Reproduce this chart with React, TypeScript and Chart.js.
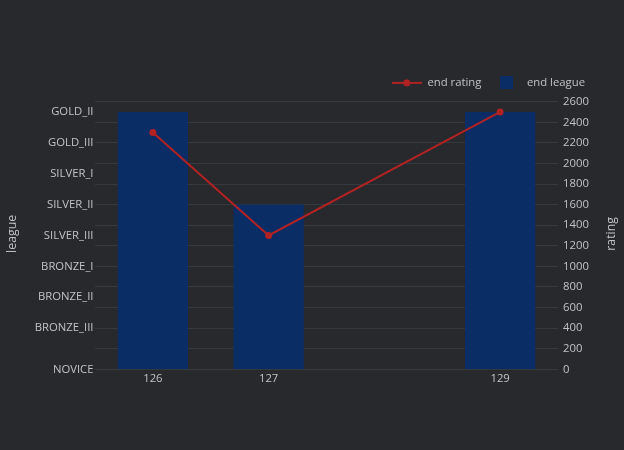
import React, { useEffect, useRef } from "react";
import { Chart, registerables } from "chart.js";

Chart.register(...registerables);

// ---- data ----
const rounds = [126, 127, 129];
const endLeague = ["GOLD_II", "SILVER_II", "GOLD_II"];
const endRating = [2300, 1300, 2500];
const leagueNames = [
  "NOVICE",
  "BRONZE_III",
  "BRONZE_II",
  "BRONZE_I",
  "SILVER_III",
  "SILVER_II",
  "SILVER_I",
  "GOLD_III",
  "GOLD_II",
];
const leagueValues = [0, 400, 700, 1000, 1300, 1600, 1900, 2200, 2500];
const ratingTicks = [0, 200, 400, 600, 800, 1000, 1200, 1400, 1600, 1800, 2000, 2200, 2400, 2600];
const xRange = [125.5, 129.5];
const yRange = [0, 2631];

// ---- styles ----
const BG = "#27292d";
const GRID = "#36393e";
const TEXT = "#c2c2c2";
const BAR = "#0a2d66";
const LINE = "#b22222";
const FONT = '"Open Sans", sans-serif';
const FS = 11.3;

function makeIcon(w: number, h: number, draw: (ctx: CanvasRenderingContext2D) => void) {
  const c = document.createElement("canvas");
  c.width = w;
  c.height = h;
  const ctx = c.getContext("2d")!;
  draw(ctx);
  return c;
}

const decorPlugin = {
  id: "decor",
  beforeDraw(chart: any) {
    const ctx = chart.ctx;
    ctx.save();
    ctx.fillStyle = BG;
    ctx.fillRect(0, 0, chart.width, chart.height);
    ctx.restore();
  },
  afterDraw(chart: any) {
    const { ctx, chartArea } = chart;
    const cy = (chartArea.top + chartArea.bottom) / 2;
    const drawTitle = (text: string, x: number) => {
      ctx.save();
      ctx.font = `12.3px ${FONT}`;
      ctx.fillStyle = TEXT;
      ctx.textAlign = "center";
      ctx.textBaseline = "middle";
      ctx.translate(x, cy);
      ctx.rotate(-Math.PI / 2);
      ctx.fillText(text, 0, 0);
      ctx.restore();
    };
    drawTitle("league", 12);
    drawTitle("rating", 611);
  },
};

export default function App() {
  const ref = useRef<HTMLCanvasElement>(null);

  useEffect(() => {
    document.body.style.margin = "0";
    document.body.style.background = BG;
    Chart.defaults.font.family = FONT;
    Chart.defaults.font.size = FS;
    Chart.defaults.color = TEXT;

    const lineIcon = makeIcon(30, 8, (ctx) => {
      ctx.strokeStyle = LINE;
      ctx.lineWidth = 2;
      ctx.beginPath();
      ctx.moveTo(0, 4);
      ctx.lineTo(30, 4);
      ctx.stroke();
      ctx.fillStyle = LINE;
      ctx.beginPath();
      ctx.arc(15, 4, 3.5, 0, Math.PI * 2);
      ctx.fill();
    });
    const squareIcon = makeIcon(13, 13, (ctx) => {
      ctx.fillStyle = BAR;
      ctx.fillRect(0, 0, 13, 13);
    });

    const barData = rounds.map((r, i) => ({
      x: r,
      y: leagueValues[leagueNames.indexOf(endLeague[i])],
    }));
    const lineData = rounds.map((r, i) => ({ x: r, y: endRating[i] }));

    const chart = new Chart(ref.current!, {
      type: "bar",
      data: {
        datasets: [
          {
            type: "line",
            label: "end rating",
            data: lineData,
            xAxisID: "x",
            yAxisID: "y1",
            borderColor: LINE,
            backgroundColor: LINE,
            borderWidth: 2,
            pointRadius: 3.5,
            pointBorderWidth: 0,
            pointBackgroundColor: LINE,
            order: 0,
          } as any,
          {
            type: "bar",
            label: "end league",
            data: barData,
            xAxisID: "x",
            yAxisID: "y",
            backgroundColor: BAR,
            borderWidth: 0,
            barPercentage: 0.607,
            categoryPercentage: 1,
            order: 1,
          } as any,
        ],
      },
      options: {
        responsive: false,
        devicePixelRatio: 1,
        animation: false,
        layout: { padding: { top: 63, right: 29, left: 0, bottom: 0 } },
        plugins: {
          tooltip: { enabled: false },
          legend: {
            display: true,
            position: "top",
            align: "end",
            labels: {
              usePointStyle: true,
              pointStyleWidth: 30,
              boxHeight: 12,
              padding: 10,
              color: TEXT,
              font: { family: FONT, size: FS },
              generateLabels: () => [
                {
                  text: "end rating",
                  fillStyle: LINE,
                  strokeStyle: LINE,
                  lineWidth: 0,
                  pointStyle: lineIcon as any,
                  hidden: false,
                  datasetIndex: 0,
                  fontColor: TEXT,
                } as any,
                {
                  text: "end league",
                  fillStyle: BAR,
                  strokeStyle: BAR,
                  lineWidth: 0,
                  pointStyle: squareIcon as any,
                  hidden: false,
                  datasetIndex: 1,
                  fontColor: TEXT,
                } as any,
              ],
            },
          },
        },
        scales: {
          x: {
            type: "linear",
            offset: false,
            min: xRange[0],
            max: xRange[1],
            grid: { display: false, drawTicks: false, offset: false },
            border: { display: false },
            afterBuildTicks: (s: any) => {
              s.ticks = rounds.map((v) => ({ value: v }));
            },
            afterFit: (s: any) => {
              s.height = 80.7;
            },
            ticks: {
              color: TEXT,
              font: { family: FONT, size: FS },
              padding: 2.5,
              autoSkip: false,
              maxRotation: 0,
              callback: (v: any) => String(v),
            },
          },
          y: {
            type: "linear",
            position: "left",
            min: yRange[0],
            max: yRange[1],
            grid: { display: false, drawTicks: false },
            border: { display: false },
            afterBuildTicks: (s: any) => {
              s.ticks = leagueValues.map((v) => ({ value: v }));
            },
            afterFit: (s: any) => {
              s.width = 95;
              s.paddingTop = 98.5;
            },
            ticks: {
              color: TEXT,
              font: { family: FONT, size: FS },
              padding: 1.5,
              autoSkip: false,
              callback: (v: any) => leagueNames[leagueValues.indexOf(Number(v))] ?? "",
            },
          },
          y1: {
            type: "linear",
            position: "right",
            min: yRange[0],
            max: yRange[1],
            grid: { display: true, color: GRID, lineWidth: 1, drawTicks: false },
            border: { display: false },
            afterBuildTicks: (s: any) => {
              s.ticks = ratingTicks.map((v) => ({ value: v }));
            },
            afterFit: (s: any) => {
              s.width = 37;
            },
            ticks: {
              color: TEXT,
              font: { family: FONT, size: FS },
              padding: 5,
              autoSkip: false,
              callback: (v: any) => String(v),
            },
          },
        },
      } as any,
      plugins: [decorPlugin as any],
    });

    return () => chart.destroy();
  }, []);

  return (
    <div style={{ position: "fixed", left: 0, top: 0, width: 624, height: 450 }}>
      <canvas ref={ref} width={624} height={450} style={{ display: "block", width: 624, height: 450 }} />
    </div>
  );
}
